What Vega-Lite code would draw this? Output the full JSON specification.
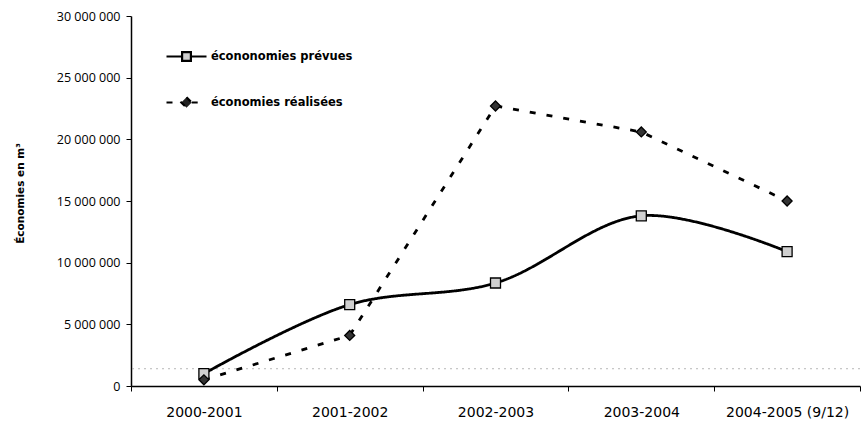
{
  "$schema": "https://vega.github.io/schema/vega-lite/v6.json",
  "width": 729,
  "height": 370,
  "autosize": {"type": "none"},
  "padding": {"left": 131, "top": 16, "right": 2, "bottom": 35},
  "background": "white",
  "data": {
    "values": [
      {"periode": "2000-2001", "serie": "écononomies prévues", "valeur": 1000000},
      {"periode": "2001-2002", "serie": "écononomies prévues", "valeur": 6600000},
      {"periode": "2002-2003", "serie": "écononomies prévues", "valeur": 8350000},
      {"periode": "2003-2004", "serie": "écononomies prévues", "valeur": 13800000},
      {"periode": "2004-2005 (9/12)", "serie": "écononomies prévues", "valeur": 10900000},
      {"periode": "2000-2001", "serie": "économies réalisées", "valeur": 500000},
      {"periode": "2001-2002", "serie": "économies réalisées", "valeur": 4100000},
      {"periode": "2002-2003", "serie": "économies réalisées", "valeur": 22700000},
      {"periode": "2003-2004", "serie": "économies réalisées", "valeur": 20600000},
      {"periode": "2004-2005 (9/12)", "serie": "économies réalisées", "valeur": 15000000}
    ]
  },
  "encoding": {
    "x": {
      "field": "periode",
      "type": "nominal",
      "sort": null,
      "bandPosition": 0.5,
      "scale": {"type": "band", "paddingInner": 0, "paddingOuter": 0},
      "axis": {
        "title": null,
        "labelAngle": 0,
        "tickBand": "extent",
        "domainColor": "black",
        "domainWidth": 1.5,
        "tickColor": "black",
        "tickSize": 5,
        "labelFont": "DejaVu Sans",
        "labelFontSize": 14,
        "labelColor": "black",
        "labelPadding": 14
      }
    },
    "y": {
      "field": "valeur",
      "type": "quantitative",
      "scale": {"domain": [0, 30000000], "nice": false},
      "axis": {
        "title": "Économies en m³",
        "values": [0, 5000000, 10000000, 15000000, 20000000, 25000000, 30000000],
        "labelExpr": "replace(format(datum.value, ','), /,/g, ' ')",
        "grid": false,
        "domainColor": "black",
        "domainWidth": 1.5,
        "tickColor": "black",
        "tickSize": 5,
        "labelFont": "Open Sans",
        "labelFontSize": 12.5,
        "labelColor": "black",
        "labelPadding": 6,
        "titleFont": "DejaVu Sans",
        "titleFontSize": 10.5,
        "titleFontWeight": "bold",
        "titleColor": "black",
        "titleX": -106,
        "titleY": 177
      }
    }
  },
  "layer": [
    {
      "data": {"values": [{"niveau": 1400000}]},
      "mark": {"type": "rule", "color": "#999999", "strokeDash": [2, 4], "strokeWidth": 1, "opacity": 0.7},
      "encoding": {"y": {"field": "niveau", "type": "quantitative"}, "x": null}
    },
    {
      "transform": [{"filter": "datum.serie === 'écononomies prévues'"}],
      "mark": {"type": "line", "interpolate": "catmull-rom", "strokeWidth": 2.8, "color": "black"},
      "encoding": {
        "strokeDash": {
          "field": "serie",
          "type": "nominal",
          "scale": {"domain": ["écononomies prévues", "économies réalisées"], "range": [[1, 0], [6, 11]]},
          "legend": {
            "title": null,
            "orient": "none",
            "legendX": 34,
            "legendY": 19,
            "padding": 0,
            "symbolType": "M-1,0H1",
            "symbolSize": 1600,
            "symbolStrokeWidth": 2.2,
            "symbolStrokeColor": "black",
            "labelFont": "DejaVu Sans",
            "labelFontSize": 11.5,
            "labelFontWeight": "bold",
            "labelColor": "black",
            "labelOffset": 3,
            "rowPadding": 15,
            "encode": {
              "symbols": {
                "update": {
                  "shape": {"signal": "datum.value === 'écononomies prévues' ? 'M-1,0H-0.22M0.22,0H1M-0.22,-0.22H0.22V0.22H-0.22Z' : 'M-1,0H-0.26M0.26,0H1M0,-0.26L0.26,0L0,0.26L-0.26,0Z'"},
                  "fill": {"signal": "datum.value === 'écononomies prévues' ? '#d0d0d0' : '#222222'"},
                  "stroke": {"value": "black"}
                }
              }
            }
          }
        }
      }
    },
    {
      "transform": [{"filter": "datum.serie === 'économies réalisées'"}],
      "mark": {"type": "line", "interpolate": "linear", "strokeWidth": 2.8, "color": "black", "strokeDash": [6, 11]},
      "encoding": {}
    },
    {
      "mark": {"type": "point", "filled": true, "stroke": "black", "strokeWidth": 1.3, "opacity": 1, "size": 100},
      "encoding": {
        "shape": {"condition": {"test": "datum.serie === 'économies réalisées'", "value": "diamond"}, "value": "square"},
        "fill": {"condition": {"test": "datum.serie === 'économies réalisées'", "value": "#333333"}, "value": "#d0d0d0"}
      }
    }
  ],
  "config": {
    "view": {"stroke": null}
  }
}
